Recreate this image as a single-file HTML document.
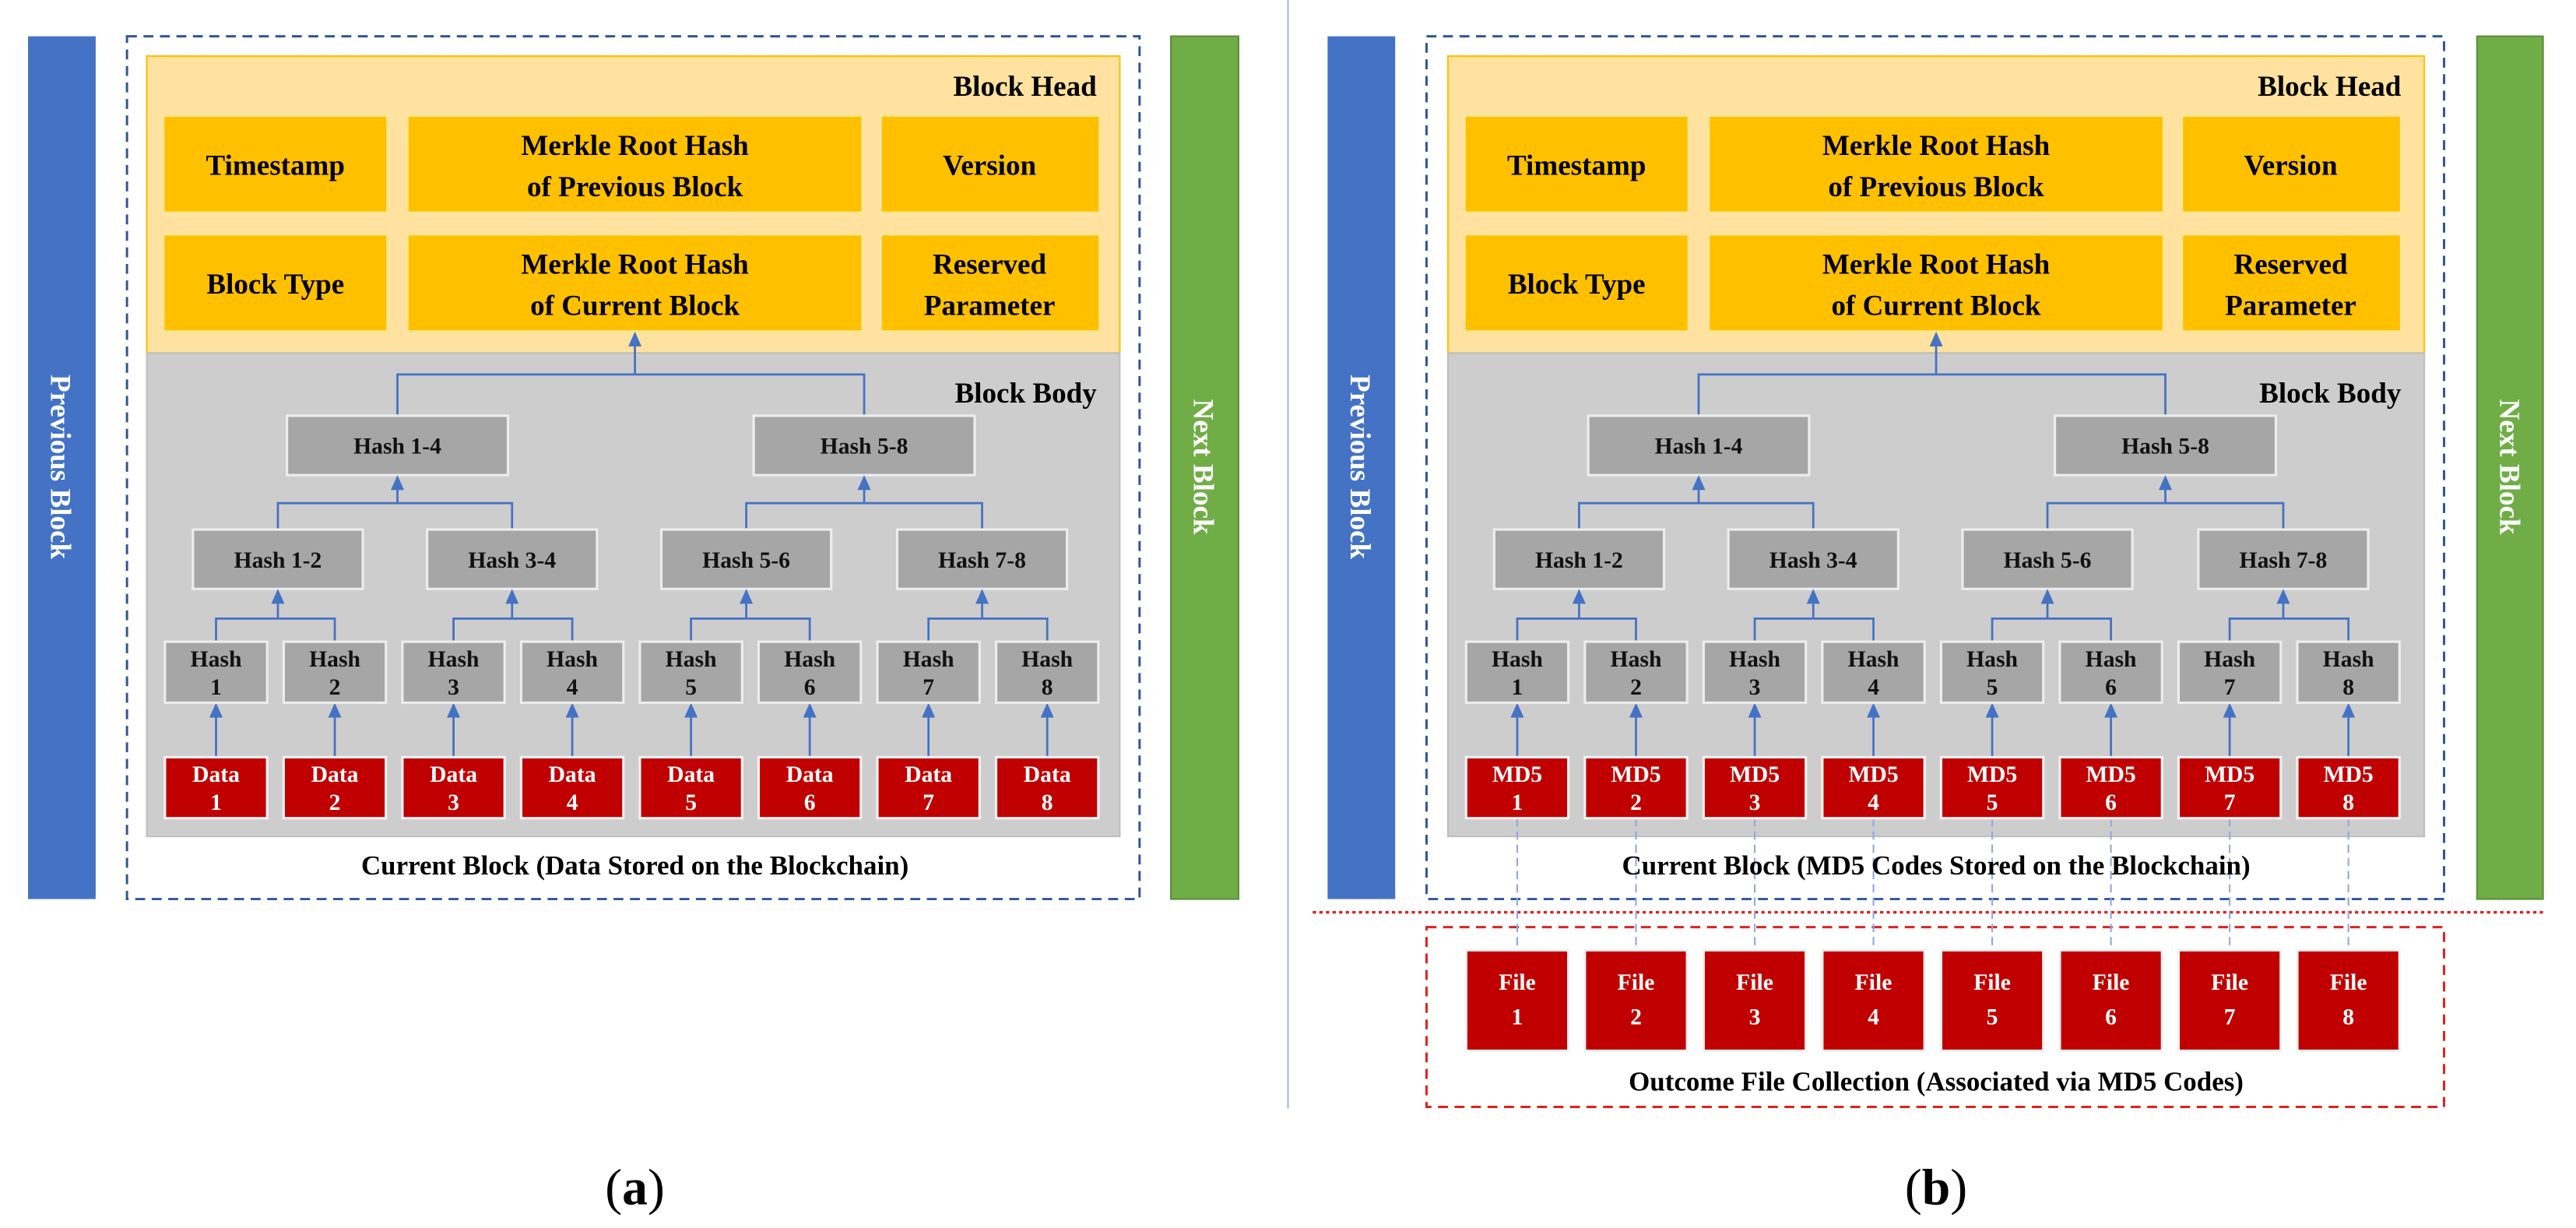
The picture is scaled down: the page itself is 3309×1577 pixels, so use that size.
<!DOCTYPE html>
<html><head><meta charset="utf-8"><style>
html,body{margin:0;padding:0;background:#fff;}
svg{display:block;}
text{font-family:"Liberation Serif",serif;font-weight:bold;text-anchor:middle;}
.h{font-size:17.5px;fill:#000;}
.m{font-size:14px;fill:#111;}
.w{font-size:14px;fill:#fff;}
.c{font-size:16.5px;fill:#000;}
.s{font-size:17.5px;fill:#fff;}
.hb{fill:#FFC000;stroke:#FFE699;stroke-width:1.5;}
.gb{fill:#A6A6A6;stroke:#EDEDED;stroke-width:1.5;}
.rb{fill:#C00000;stroke:#F2F2F2;stroke-width:1.5;}
.ln{stroke:#4472C4;stroke-width:1.3;fill:none;}
.tr{fill:#4472C4;}
.dl{stroke:#8FAADC;stroke-width:1;stroke-dasharray:5,3;fill:none;}
</style></head><body>
<svg width="3309" height="1577" viewBox="0 0 1562 744.4" preserveAspectRatio="none" xmlns="http://www.w3.org/2000/svg">
<rect width="1562" height="744.4" fill="#fff"/>
<line x1="781" y1="0" x2="781" y2="672" stroke="#8EA9DB" stroke-width="0.8"/>

<!-- ===== PANEL A ===== -->
<g>
<rect x="17" y="22" width="41" height="523" fill="#4472C4"/>
<text class="s" transform="translate(31,283) rotate(90)">Previous Block</text>
<rect x="710" y="22" width="41" height="523" fill="#70AD47" stroke="#5A8F3A" stroke-width="1"/>
<text class="s" transform="translate(724,283) rotate(90)">Next Block</text>
<rect x="77" y="22" width="614" height="523" fill="none" stroke="#2F5597" stroke-width="1.4" stroke-dasharray="6,4"/>
<rect x="89" y="34" width="590" height="180" fill="#FFE29F" stroke="#FFC000" stroke-width="1"/>
<rect x="89" y="214" width="590" height="293" fill="#CDCDCD" stroke="#BFBFBF" stroke-width="1"/>
<text class="h" x="665" y="58" style="text-anchor:end">Block Head</text>
<text class="h" x="665" y="244" style="text-anchor:end">Block Body</text>
<rect class="hb" x="99" y="70" width="136" height="59"/>
<rect class="hb" x="247" y="70" width="276" height="59"/>
<rect class="hb" x="534" y="70" width="133" height="59"/>
<rect class="hb" x="99" y="142" width="136" height="59"/>
<rect class="hb" x="247" y="142" width="276" height="59"/>
<rect class="hb" x="534" y="142" width="133" height="59"/>
<text class="h" x="167" y="106">Timestamp</text>
<text class="h" x="385" y="94">Merkle Root Hash</text>
<text class="h" x="385" y="119">of Previous Block</text>
<text class="h" x="600" y="106">Version</text>
<text class="h" x="167" y="178">Block Type</text>
<text class="h" x="385" y="166">Merkle Root Hash</text>
<text class="h" x="385" y="191">of Current Block</text>
<text class="h" x="600" y="166">Reserved</text>
<text class="h" x="600" y="191">Parameter</text>

<path class="ln" d="M241,252 V227 H524 V252 M385,227 V209"/>
<polygon class="tr" points="385,201 381,210 389,210"/>
<rect class="gb" x="174" y="252" width="134" height="36"/>
<rect class="gb" x="457" y="252" width="134" height="36"/>
<text class="m" x="241" y="275">Hash 1-4</text>
<text class="m" x="524" y="275">Hash 5-8</text>

<path class="ln" d="M168.5,321 V305 H310.5 V321 M452.5,321 V305 H595.5 V321 M241,305 V296 M524,305 V296"/>
<polygon class="tr" points="241,288 237,297 245,297"/>
<polygon class="tr" points="524,288 520,297 528,297"/>
<rect class="gb" x="117" y="321" width="103" height="36"/>
<rect class="gb" x="259" y="321" width="103" height="36"/>
<rect class="gb" x="401" y="321" width="103" height="36"/>
<rect class="gb" x="544" y="321" width="103" height="36"/>
<text class="m" x="168.5" y="344">Hash 1-2</text>
<text class="m" x="310.5" y="344">Hash 3-4</text>
<text class="m" x="452.5" y="344">Hash 5-6</text>
<text class="m" x="595.5" y="344">Hash 7-8</text>

<path class="ln" d="M131,389 V375 H203 V389 M275,389 V375 H347 V389 M419,389 V375 H491 V389 M563,389 V375 H635 V389 M168.5,375 V365 M310.5,375 V365 M452.5,375 V365 M595.5,375 V365"/>
<polygon class="tr" points="168.5,357 164.5,366 172.5,366"/>
<polygon class="tr" points="310.5,357 306.5,366 314.5,366"/>
<polygon class="tr" points="452.5,357 448.5,366 456.5,366"/>
<polygon class="tr" points="595.5,357 591.5,366 599.5,366"/>
<path class="ln" d="M131,459 V434 M203,459 V434 M275,459 V434 M347,459 V434 M419,459 V434 M491,459 V434 M563,459 V434 M635,459 V434"/>
<polygon class="tr" points="131,426 127,435 135,435"/><polygon class="tr" points="203,426 199,435 207,435"/>
<polygon class="tr" points="275,426 271,435 279,435"/><polygon class="tr" points="347,426 343,435 351,435"/>
<polygon class="tr" points="419,426 415,435 423,435"/><polygon class="tr" points="491,426 487,435 495,435"/>
<polygon class="tr" points="563,426 559,435 567,435"/><polygon class="tr" points="635,426 631,435 639,435"/>
<rect class="gb" x="100" y="389" width="62" height="37"/><rect class="gb" x="172" y="389" width="62" height="37"/>
<rect class="gb" x="244" y="389" width="62" height="37"/><rect class="gb" x="316" y="389" width="62" height="37"/>
<rect class="gb" x="388" y="389" width="62" height="37"/><rect class="gb" x="460" y="389" width="62" height="37"/>
<rect class="gb" x="532" y="389" width="62" height="37"/><rect class="gb" x="604" y="389" width="62" height="37"/>
<text class="m" x="131" y="404">Hash</text><text class="m" x="131" y="421">1</text>
<text class="m" x="203" y="404">Hash</text><text class="m" x="203" y="421">2</text>
<text class="m" x="275" y="404">Hash</text><text class="m" x="275" y="421">3</text>
<text class="m" x="347" y="404">Hash</text><text class="m" x="347" y="421">4</text>
<text class="m" x="419" y="404">Hash</text><text class="m" x="419" y="421">5</text>
<text class="m" x="491" y="404">Hash</text><text class="m" x="491" y="421">6</text>
<text class="m" x="563" y="404">Hash</text><text class="m" x="563" y="421">7</text>
<text class="m" x="635" y="404">Hash</text><text class="m" x="635" y="421">8</text>
<rect class="rb" x="100" y="459" width="62" height="37"/><rect class="rb" x="172" y="459" width="62" height="37"/>
<rect class="rb" x="244" y="459" width="62" height="37"/><rect class="rb" x="316" y="459" width="62" height="37"/>
<rect class="rb" x="388" y="459" width="62" height="37"/><rect class="rb" x="460" y="459" width="62" height="37"/>
<rect class="rb" x="532" y="459" width="62" height="37"/><rect class="rb" x="604" y="459" width="62" height="37"/>
<text class="w" x="131" y="474">Data</text><text class="w" x="131" y="491">1</text>
<text class="w" x="203" y="474">Data</text><text class="w" x="203" y="491">2</text>
<text class="w" x="275" y="474">Data</text><text class="w" x="275" y="491">3</text>
<text class="w" x="347" y="474">Data</text><text class="w" x="347" y="491">4</text>
<text class="w" x="419" y="474">Data</text><text class="w" x="419" y="491">5</text>
<text class="w" x="491" y="474">Data</text><text class="w" x="491" y="491">6</text>
<text class="w" x="563" y="474">Data</text><text class="w" x="563" y="491">7</text>
<text class="w" x="635" y="474">Data</text><text class="w" x="635" y="491">8</text>
<text class="c" x="385" y="530">Current Block (Data Stored on the Blockchain)</text>
<text x="385" y="730" style="font-size:31px;font-weight:normal">(<tspan style="font-weight:bold">a</tspan>)</text>
</g>

<!-- ===== PANEL B ===== -->
<g>
<rect x="805" y="22" width="41" height="523" fill="#4472C4"/>
<text class="s" transform="translate(819,283) rotate(90)">Previous Block</text>
<rect x="1502" y="22" width="40" height="523" fill="#70AD47" stroke="#5A8F3A" stroke-width="1"/>
<text class="s" transform="translate(1516,283) rotate(90)">Next Block</text>
<rect x="865" y="22" width="617" height="523" fill="none" stroke="#2F5597" stroke-width="1.4" stroke-dasharray="6,4"/>
<line x1="796" y1="553" x2="1544" y2="553" stroke="#E02020" stroke-width="1.6" stroke-dasharray="2,2"/>
<rect x="865" y="562" width="617" height="109" fill="none" stroke="#E02020" stroke-width="1.4" stroke-dasharray="6,4"/>
<g transform="translate(789,0)">
<rect x="89" y="34" width="592" height="180" fill="#FFE29F" stroke="#FFC000" stroke-width="1"/>
<rect x="89" y="214" width="592" height="293" fill="#CDCDCD" stroke="#BFBFBF" stroke-width="1"/>
<text class="h" x="667" y="58" style="text-anchor:end">Block Head</text>
<text class="h" x="667" y="244" style="text-anchor:end">Block Body</text>
<rect class="hb" x="99" y="70" width="136" height="59"/>
<rect class="hb" x="247" y="70" width="276" height="59"/>
<rect class="hb" x="534" y="70" width="133" height="59"/>
<rect class="hb" x="99" y="142" width="136" height="59"/>
<rect class="hb" x="247" y="142" width="276" height="59"/>
<rect class="hb" x="534" y="142" width="133" height="59"/>
<text class="h" x="167" y="106">Timestamp</text>
<text class="h" x="385" y="94">Merkle Root Hash</text>
<text class="h" x="385" y="119">of Previous Block</text>
<text class="h" x="600" y="106">Version</text>
<text class="h" x="167" y="178">Block Type</text>
<text class="h" x="385" y="166">Merkle Root Hash</text>
<text class="h" x="385" y="191">of Current Block</text>
<text class="h" x="600" y="166">Reserved</text>
<text class="h" x="600" y="191">Parameter</text>

<path class="ln" d="M241,252 V227 H524 V252 M385,227 V209"/>
<polygon class="tr" points="385,201 381,210 389,210"/>
<rect class="gb" x="174" y="252" width="134" height="36"/>
<rect class="gb" x="457" y="252" width="134" height="36"/>
<text class="m" x="241" y="275">Hash 1-4</text>
<text class="m" x="524" y="275">Hash 5-8</text>

<path class="ln" d="M168.5,321 V305 H310.5 V321 M452.5,321 V305 H595.5 V321 M241,305 V296 M524,305 V296"/>
<polygon class="tr" points="241,288 237,297 245,297"/>
<polygon class="tr" points="524,288 520,297 528,297"/>
<rect class="gb" x="117" y="321" width="103" height="36"/>
<rect class="gb" x="259" y="321" width="103" height="36"/>
<rect class="gb" x="401" y="321" width="103" height="36"/>
<rect class="gb" x="544" y="321" width="103" height="36"/>
<text class="m" x="168.5" y="344">Hash 1-2</text>
<text class="m" x="310.5" y="344">Hash 3-4</text>
<text class="m" x="452.5" y="344">Hash 5-6</text>
<text class="m" x="595.5" y="344">Hash 7-8</text>

<path class="ln" d="M131,389 V375 H203 V389 M275,389 V375 H347 V389 M419,389 V375 H491 V389 M563,389 V375 H635 V389 M168.5,375 V365 M310.5,375 V365 M452.5,375 V365 M595.5,375 V365"/>
<polygon class="tr" points="168.5,357 164.5,366 172.5,366"/>
<polygon class="tr" points="310.5,357 306.5,366 314.5,366"/>
<polygon class="tr" points="452.5,357 448.5,366 456.5,366"/>
<polygon class="tr" points="595.5,357 591.5,366 599.5,366"/>
<path class="ln" d="M131,459 V434 M203,459 V434 M275,459 V434 M347,459 V434 M419,459 V434 M491,459 V434 M563,459 V434 M635,459 V434"/>
<polygon class="tr" points="131,426 127,435 135,435"/><polygon class="tr" points="203,426 199,435 207,435"/>
<polygon class="tr" points="275,426 271,435 279,435"/><polygon class="tr" points="347,426 343,435 351,435"/>
<polygon class="tr" points="419,426 415,435 423,435"/><polygon class="tr" points="491,426 487,435 495,435"/>
<polygon class="tr" points="563,426 559,435 567,435"/><polygon class="tr" points="635,426 631,435 639,435"/>
<path class="dl" d="M131,496 V576 M203,496 V576 M275,496 V576 M347,496 V576 M419,496 V576 M491,496 V576 M563,496 V576 M635,496 V576"/>
<rect class="gb" x="100" y="389" width="62" height="37"/><rect class="gb" x="172" y="389" width="62" height="37"/>
<rect class="gb" x="244" y="389" width="62" height="37"/><rect class="gb" x="316" y="389" width="62" height="37"/>
<rect class="gb" x="388" y="389" width="62" height="37"/><rect class="gb" x="460" y="389" width="62" height="37"/>
<rect class="gb" x="532" y="389" width="62" height="37"/><rect class="gb" x="604" y="389" width="62" height="37"/>
<text class="m" x="131" y="404">Hash</text><text class="m" x="131" y="421">1</text>
<text class="m" x="203" y="404">Hash</text><text class="m" x="203" y="421">2</text>
<text class="m" x="275" y="404">Hash</text><text class="m" x="275" y="421">3</text>
<text class="m" x="347" y="404">Hash</text><text class="m" x="347" y="421">4</text>
<text class="m" x="419" y="404">Hash</text><text class="m" x="419" y="421">5</text>
<text class="m" x="491" y="404">Hash</text><text class="m" x="491" y="421">6</text>
<text class="m" x="563" y="404">Hash</text><text class="m" x="563" y="421">7</text>
<text class="m" x="635" y="404">Hash</text><text class="m" x="635" y="421">8</text>
<rect class="rb" x="100" y="459" width="62" height="37"/><rect class="rb" x="172" y="459" width="62" height="37"/>
<rect class="rb" x="244" y="459" width="62" height="37"/><rect class="rb" x="316" y="459" width="62" height="37"/>
<rect class="rb" x="388" y="459" width="62" height="37"/><rect class="rb" x="460" y="459" width="62" height="37"/>
<rect class="rb" x="532" y="459" width="62" height="37"/><rect class="rb" x="604" y="459" width="62" height="37"/>
<text class="w" x="131" y="474">MD5</text><text class="w" x="131" y="491">1</text>
<text class="w" x="203" y="474">MD5</text><text class="w" x="203" y="491">2</text>
<text class="w" x="275" y="474">MD5</text><text class="w" x="275" y="491">3</text>
<text class="w" x="347" y="474">MD5</text><text class="w" x="347" y="491">4</text>
<text class="w" x="419" y="474">MD5</text><text class="w" x="419" y="491">5</text>
<text class="w" x="491" y="474">MD5</text><text class="w" x="491" y="491">6</text>
<text class="w" x="563" y="474">MD5</text><text class="w" x="563" y="491">7</text>
<text class="w" x="635" y="474">MD5</text><text class="w" x="635" y="491">8</text>
<text class="c" x="385" y="530">Current Block (MD5 Codes Stored on the Blockchain)</text>
<rect class="rb" x="100" y="576" width="62" height="61"/><rect class="rb" x="172" y="576" width="62" height="61"/>
<rect class="rb" x="244" y="576" width="62" height="61"/><rect class="rb" x="316" y="576" width="62" height="61"/>
<rect class="rb" x="388" y="576" width="62" height="61"/><rect class="rb" x="460" y="576" width="62" height="61"/>
<rect class="rb" x="532" y="576" width="62" height="61"/><rect class="rb" x="604" y="576" width="62" height="61"/>
<text class="w" x="131" y="600">File</text><text class="w" x="131" y="621">1</text>
<text class="w" x="203" y="600">File</text><text class="w" x="203" y="621">2</text>
<text class="w" x="275" y="600">File</text><text class="w" x="275" y="621">3</text>
<text class="w" x="347" y="600">File</text><text class="w" x="347" y="621">4</text>
<text class="w" x="419" y="600">File</text><text class="w" x="419" y="621">5</text>
<text class="w" x="491" y="600">File</text><text class="w" x="491" y="621">6</text>
<text class="w" x="563" y="600">File</text><text class="w" x="563" y="621">7</text>
<text class="w" x="635" y="600">File</text><text class="w" x="635" y="621">8</text>
<text class="c" x="385" y="661">Outcome File Collection (Associated via MD5 Codes)</text>
<text x="385" y="730" style="font-size:31px;font-weight:normal">(<tspan style="font-weight:bold">b</tspan>)</text>
</g>
</g>
</svg>
</body></html>
